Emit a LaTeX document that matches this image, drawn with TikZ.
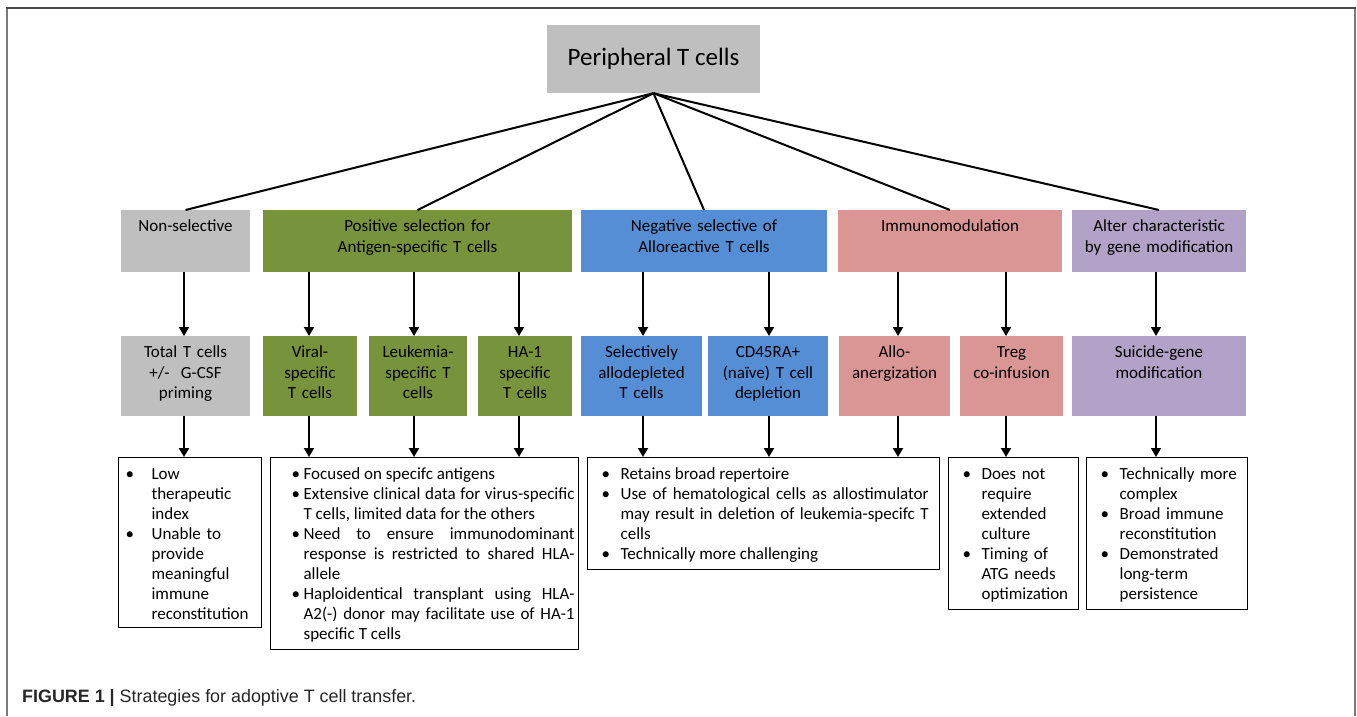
\documentclass[tikz,border=0pt]{standalone}
\usepackage{fontspec}
\setmainfont{Carlito}
\newfontfamily\capfont{Liberation Sans}
\usepackage{tikz}
\usetikzlibrary{arrows.meta,positioning}
\definecolor{boxgray}{HTML}{BFBFBF}
\definecolor{boxgreen}{HTML}{77933C}
\definecolor{boxblue}{HTML}{558ED5}
\definecolor{boxpink}{HTML}{D99694}
\definecolor{boxpurple}{HTML}{B3A2C7}
\definecolor{framegray}{HTML}{7A7A7A}
\definecolor{framedark}{HTML}{4A4A4A}
\hyphenpenalty=10000
\exhyphenpenalty=10000
\newcommand{\bul}[2]{\hangindent=33pt\hangafter=1\noindent\makebox[33pt][l]{\hspace*{#1}\textbullet}#2\par}
\begin{document}
\begin{tikzpicture}[x=1pt,y=-1pt,
 lvl/.style={anchor=north,inner sep=0pt,align=center,text height=21.5pt,font=\fontsize{17}{20.5}\selectfont},
 catbox/.style={lvl,text depth=40.5pt},subbox/.style={lvl,text depth=58.5pt},
 notebox/.style={anchor=north west,draw=black,line width=1.2pt,fill=white,inner sep=0pt,text height=21.5pt,font=\fontsize{17}{20}\selectfont},
 arr/.style={line width=1.8pt,-{Triangle[width=10pt,length=9pt]}}]
\useasboundingbox (0,0) rectangle (1357,716);
\draw[framegray,line width=2pt] (7,716)--(7,8) (1355,8)--(1355,716);
\draw[framedark,line width=2pt] (6,8)--(1356,8);
\node[fill=boxgray,minimum width=213pt,minimum height=68pt,inner sep=0pt,font=\fontsize{25}{30}\selectfont] (root) at (653.5,59) {Peripheral T cells};
\foreach \x/\w/\col/\id/\name in {185.5/129/boxgray/ns/Non-selective,417.5/309/boxgreen/pos/Positive selection for\\Antigen-specific T cells,704/246/boxblue/neg/Negative selective of\\Alloreactive T cells,950/224/boxpink/imm/Immunomodulation,1159/174/boxpurple/alt/Alter characteristic\\by gene modification}{
\node[catbox,fill=\col,text width=\w pt] (\id) at (\x,210) {\name};
\draw[line width=2pt] (root.south)--(\id.north);}
\foreach \x/\w/\col/\id/\name in {185.5/129/boxgray/tot/{Total T cells\\+/-\ \ G-CSF\\priming},310/94/boxgreen/vir/{Viral-\\specific\\T cells},418/98/boxgreen/leu/{Leukemia-\\specific T\\cells},525/94/boxgreen/ha/{HA-1\\specific\\T cells},641.5/121/boxblue/sel/{Selectively\\allodepleted\\T cells},768/120/boxblue/cd/{CD45RA+\\(naïve) T cell\\depletion},894.5/111/boxpink/allo/{Allo-\\anergization},1011.5/103/boxpink/treg/{Treg\\co-infusion},1159/174/boxpurple/sui/{Suicide-gene\\modification}}
\node[subbox,fill=\col,text width=\w pt] (\id) at (\x,336) {\name};
\node[notebox,text width=143pt,text depth=148.5pt,align=left] (n1) at (118,457) {\bul{7pt}{Low\break therapeutic\break index}\bul{7pt}{Unable to\break provide\break meaningful\break immune\break reconstitution}};
\node[notebox,text width=308pt,text depth=170.5pt,align=justify] (n2) at (270,457) {\rightskip=4pt\bul{21pt}{Focused on specifc antigens}\bul{21pt}{Extensive clinical data for virus-specific\break T cells, limited data for the others}\bul{21pt}{Need to ensure immunodominant\break response is restricted to shared HLA-\break allele}\bul{21pt}{Haploidentical transplant using HLA-\break A2(-) donor may facilitate use of HA-1\break specific T cells}};
\node[notebox,text width=352pt,text depth=90.5pt,align=justify] (n3) at (587,457) {\rightskip=11pt\bul{14pt}{Retains broad repertoire}\bul{14pt}{Use of hematological cells as allostimulator\break may result in deletion of leukemia-specifc T\break cells}\bul{14pt}{Technically more challenging}};
\node[notebox,text width=130pt,text depth=130.5pt,align=left] (n4) at (948,457) {\bul{14pt}{Does not\break require\break extended\break culture}\bul{14pt}{Timing of\break ATG needs\break optimization}};
\node[notebox,text width=161pt,text depth=130.5pt,align=left] (n5) at (1086,457) {\bul{14pt}{Technically more\break complex}\bul{14pt}{Broad immune\break reconstitution}\bul{14pt}{Demonstrated\break long-term\break persistence}};
\foreach \a/\b/\c/\d in {ns/tot/n1/-1.5,pos/vir/n2/-1,pos/leu/n2/-4,pos/ha/n2/-6,neg/sel/n3/1.5,neg/cd/n3/1,imm/allo/n3/3.5,imm/treg/n4/-5.5,alt/sui/n5/-3}{
\coordinate (t\b) at ([xshift=\d pt]\b.north);
\draw[arr] (t\b |- \a.south)--(t\b);
\draw[arr] (t\b |- \b.south)--(t\b |- \c.north);}
\node[anchor=base west,inner sep=0pt,text=black!85,font=\capfont\fontsize{17.9}{21}\selectfont] (cap) at (22,702) {\textbf{FIGURE 1 |} Strategies for adoptive T cell transfer.};
\end{tikzpicture}
\end{document}
